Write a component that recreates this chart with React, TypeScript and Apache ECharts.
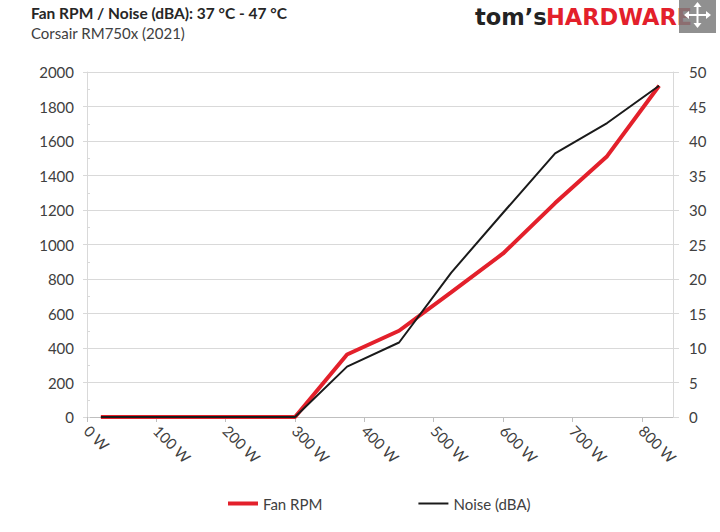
import React, { useEffect, useRef } from "react";
import * as echarts from "echarts";

const titleText = "Fan RPM / Noise (dBA): 37 °C - 47 °C";
const subtitleText = "Corsair RM750x (2021)";
const loadWatts = [20, 75, 150, 225, 300, 375, 450, 525, 600, 675, 750, 825];
const fanRpm = [0, 0, 0, 0, 0, 362, 500, 722, 948, 1240, 1512, 1920];
const noiseDba = [0, 0, 0, 0, 0, 7.3, 10.8, 20.9, 29.6, 38.2, 42.6, 48.0];
const seriesNames = ["Fan RPM", "Noise (dBA)"];

const FONT = "Lato";
const LABEL_COLOR = "#404040";
const GRID_COLOR = "#d9d9d9";
const RED = "#e3202b";
const BLACK = "#1a1a1a";

export default function App() {
  const ref = useRef<HTMLDivElement>(null);
  useEffect(() => {
    if (!ref.current) return;
    const chart = echarts.init(ref.current, null, { renderer: "svg" });
    const fanData = loadWatts.map((w, i) => [w, fanRpm[i]]);
    const noiseData = loadWatts.map((w, i) => [w, noiseDba[i]]);
    const arrowStyle = { fill: "#ffffff" };
    chart.setOption({
      animation: false,
      backgroundColor: "#ffffff",
      textStyle: { fontFamily: FONT },
      grid: { left: 87, right: 47, top: 72, bottom: 115, containLabel: false },
      legend: {
        left: 228,
        top: 496,
        padding: 0,
        itemWidth: 30,
        itemHeight: 14,
        itemGap: 96,
        textStyle: { fontFamily: FONT, fontSize: 15, color: LABEL_COLOR },
        data: [
          { name: seriesNames[0], icon: "path://M0,0h30v4h-30z", itemStyle: { color: RED } },
          { name: seriesNames[1], icon: "path://M0,0h30v2h-30z", itemStyle: { color: BLACK } },
        ],
      },
      xAxis: {
        type: "value",
        min: 0,
        max: 845,
        interval: 100,
        axisLine: { show: true, lineStyle: { color: "#bfbfbf", width: 1 } },
        axisTick: { show: true, length: 5, lineStyle: { color: "#bfbfbf" } },
        splitLine: { show: false },
        axisLabel: {
          rotate: -45,
          margin: 11,
          showMaxLabel: false,
          fontFamily: FONT,
          fontSize: 15,
          color: LABEL_COLOR,
          formatter: (v: number) => `${v} W`,
        },
      },
      yAxis: [
        {
          type: "value",
          position: "left",
          min: 0,
          max: 2000,
          interval: 200,
          axisLine: { show: true, lineStyle: { color: GRID_COLOR } },
          axisTick: { show: true, length: 4, lineStyle: { color: GRID_COLOR } },
          splitLine: { show: true, lineStyle: { color: GRID_COLOR, width: 1 } },
          axisLabel: {
            margin: 13,
            fontFamily: FONT,
            fontSize: 15,
            color: LABEL_COLOR,
            formatter: (v: number) => String(v),
          },
        },
        {
          type: "value",
          position: "right",
          min: 0,
          max: 50,
          interval: 5,
          axisLine: { show: true, lineStyle: { color: GRID_COLOR } },
          axisTick: { show: true, length: 6, lineStyle: { color: GRID_COLOR } },
          splitLine: { show: false },
          axisLabel: {
            margin: 16,
            fontFamily: FONT,
            fontSize: 15,
            color: LABEL_COLOR,
            formatter: (v: number) => String(v),
          },
        },
        {
          type: "value",
          position: "left",
          min: 0,
          max: 2000,
          interval: 100,
          axisLine: { show: false },
          axisTick: { show: true, inside: true, length: 3, lineStyle: { color: GRID_COLOR } },
          splitLine: { show: false },
          axisLabel: { show: false },
        },
      ],
      series: [
        {
          name: seriesNames[0],
          type: "line",
          yAxisIndex: 0,
          data: fanData,
          symbol: "none",
          z: 3,
          lineStyle: { color: RED, width: 4 },
          itemStyle: { color: RED },
        },
        {
          name: seriesNames[1],
          type: "line",
          yAxisIndex: 1,
          data: noiseData,
          symbol: "none",
          z: 4,
          lineStyle: { color: BLACK, width: 2 },
          itemStyle: { color: BLACK },
        },
      ],
      graphic: [
        {
          type: "text",
          left: 31,
          top: 5,
          style: { text: titleText, fontFamily: FONT, fontWeight: "bold", fontSize: 15.5, fill: "#262626" },
        },
        {
          type: "text",
          left: 31,
          top: 25,
          style: { text: subtitleText, fontFamily: FONT, fontSize: 15, fill: "#404040" },
        },
        {
          type: "text",
          x: 475,
          y: 5,
          style: { text: "tom’s", fontFamily: "DejaVu Sans", fontWeight: "bold", fontSize: 22.5, fill: "#232323" },
        },
        {
          type: "text",
          x: 546,
          y: 5,
          style: { text: "HARDWARE", fontFamily: "DejaVu Sans", fontWeight: "bold", fontSize: 22.5, fill: RED },
        },
        {
          type: "rect",
          shape: { x: 679, y: 0, width: 37, height: 33 },
          style: { fill: "rgba(125,125,125,0.85)" },
        },
        {
          type: "line",
          shape: { x1: 688, y1: 15, x2: 707, y2: 15 },
          style: { stroke: "#ffffff", lineWidth: 2 },
        },
        {
          type: "line",
          shape: { x1: 697.5, y1: 5, x2: 697.5, y2: 25 },
          style: { stroke: "#ffffff", lineWidth: 2 },
        },
        { type: "polygon", shape: { points: [[684, 15], [689, 11], [689, 19]] }, style: arrowStyle },
        { type: "polygon", shape: { points: [[711, 15], [706, 11], [706, 19]] }, style: arrowStyle },
        { type: "polygon", shape: { points: [[697.5, 2], [693.5, 7], [701.5, 7]] }, style: arrowStyle },
        { type: "polygon", shape: { points: [[697.5, 28], [693.5, 23], [701.5, 23]] }, style: arrowStyle },
      ],
    });
    return () => chart.dispose();
  }, []);
  return (
    <div
      ref={ref}
      style={{ position: "fixed", left: 0, top: 0, width: 720, height: 532, background: "#fff" }}
    />
  );
}
